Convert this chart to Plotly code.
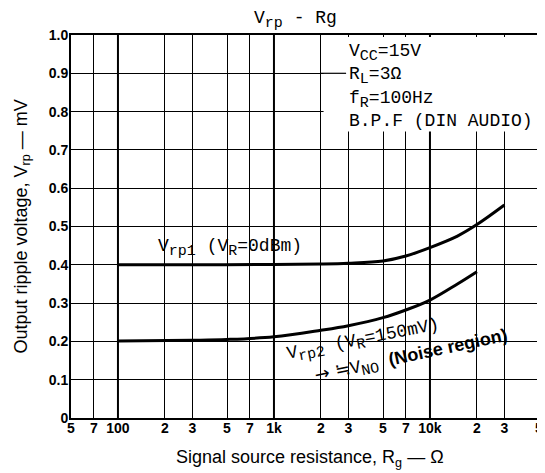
import math
import plotly.graph_objects as go

# Data
rg1 = [100, 300, 1000, 2000, 3000, 5000, 7000, 10000, 15000, 20000, 30000]
vrp1 = [0.400, 0.400, 0.401, 0.402, 0.404, 0.410, 0.423, 0.445, 0.475, 0.505, 0.556]
rg2 = [100, 300, 500, 1000, 2000, 3000, 5000, 7000, 10000, 15000, 20000]
vrp2 = [0.201, 0.203, 0.205, 0.212, 0.229, 0.241, 0.262, 0.282, 0.308, 0.350, 0.382]

x_tickvals = [50, 70, 100, 200, 300, 500, 700, 1000, 2000, 3000, 5000, 7000, 10000, 20000, 30000, 50000]
x_ticktext = ["5", "7", "100", "2", "3", "5", "7", "1k", "2", "3", "5", "7", "10k", "2", "3", "5"]
y_tickvals = [0, 0.1, 0.2, 0.3, 0.4, 0.5, 0.6, 0.7, 0.8, 0.9, 1.0]
y_ticktext = ["0", "0.1", "0.2", "0.3", "0.4", "0.5", "0.6", "0.7", "0.8", "0.9", "1.0"]

MONO = "Liberation Mono"
SANS = "Liberation Sans"


def sub(s, size=15):
    return "<sub><span style='font-size:%dpx'>%s</span></sub>" % (size, s)


fig = go.Figure()
fig.add_trace(go.Scatter(x=rg1, y=vrp1, mode="lines", line=dict(color="black", width=3, shape="spline"),
                         showlegend=False, hoverinfo="skip"))
fig.add_trace(go.Scatter(x=rg2, y=vrp2, mode="lines", line=dict(color="black", width=3, shape="spline"),
                         showlegend=False, hoverinfo="skip"))

shapes = []
for d in [100, 1000, 10000]:
    shapes.append(dict(type="line", xref="x", yref="y", x0=d, x1=d, y0=0, y1=1.0,
                       line=dict(color="black", width=2), layer="between"))
shapes.append(dict(type="rect", xref="x", yref="y", x0=2080, x1=50000, y0=0.748, y1=0.995,
                   fillcolor="white", line=dict(width=0), layer="between"))
shapes.append(dict(type="line", xref="x", yref="y", x0=2000, x1=2900, y0=0.9, y1=0.9,
                   line=dict(color="black", width=1.2), layer="between"))

annotations = [
    dict(text="V" + sub("rp") + " - Rg", x=0.48, y=1.0, xref="paper", yref="paper", yanchor="bottom",
         yshift=1, showarrow=False, font=dict(family=MONO, size=18, color="black")),
    dict(text="V" + sub("CC") + "=15V<br>R" + sub("L") + "=3Ω<br>f" + sub("R") + "=100Hz<br>B.P.F (DIN AUDIO)",
         x=math.log10(2950), y=0.99, xref="x", yref="y", xanchor="left", yanchor="top",
         align="left", showarrow=False, font=dict(family=MONO, size=18, color="black")),
    dict(text="V" + sub("rp1") + " (V" + sub("R") + "=0dBm)", x=math.log10(175), y=0.445, xref="x", yref="y",
         xanchor="left", yanchor="middle", showarrow=False,
         font=dict(family=MONO, size=18, color="black")),
    dict(text="V" + sub("rp2") + " (V" + sub("R") + "=150mV)", x=math.log10(3750), y=0.20, xref="x", yref="y",
         xanchor="center", yanchor="middle", showarrow=False, textangle=-11,
         font=dict(family=MONO, size=18, color="black")),
    dict(text="<span style='font-family:DejaVu Sans'>→ ≒</span>V" + sub("NO")
         + " <b><span style='font-family:Liberation Sans'>(Noise region)</span></b>",
         x=math.log10(7600), y=0.16, xref="x", yref="y",
         xanchor="center", yanchor="middle", showarrow=False, textangle=-12,
         font=dict(family=MONO, size=18, color="black")),
    dict(text="Output ripple voltage, V<sub>rp</sub> — mV", x=0, y=0.5, xref="paper", yref="paper",
         xanchor="center", yanchor="middle", xshift=-49, textangle=-90, showarrow=False,
         font=dict(family=SANS, size=18, color="black")),
    dict(text="Signal source resistance, R<sub>g</sub> — Ω", x=0.5, y=0, xref="paper", yref="paper",
         xanchor="center", yanchor="middle", xshift=5, yshift=-40, showarrow=False,
         font=dict(family=SANS, size=18, color="black")),
]

fig.update_layout(
    width=537, height=465,
    margin=dict(l=63, r=6, t=27, b=55),
    paper_bgcolor="white", plot_bgcolor="white",
    shapes=shapes, annotations=annotations,
    xaxis=dict(type="log", range=[math.log10(50), math.log10(50000)], automargin=False,
               tickvals=x_tickvals, ticktext=x_ticktext, ticks="", ticklabelstandoff=-4,
               showgrid=True, gridcolor="black", gridwidth=1.2,
               showline=True, linecolor="black", linewidth=2, mirror=True,
               tickfont=dict(family=SANS, size=14, color="black", weight="bold"),
               zeroline=False),
    yaxis=dict(range=[0, 1.0], tickvals=y_tickvals, ticktext=y_ticktext, ticks="", automargin=False,
               ticklabelstandoff=-2,
               showgrid=True, gridcolor="black", gridwidth=1.2,
               showline=True, linecolor="black", linewidth=2, mirror=True,
               tickfont=dict(family=SANS, size=14, color="black", weight="bold"),
               zeroline=False),
)

fig.write_html("out.html")
